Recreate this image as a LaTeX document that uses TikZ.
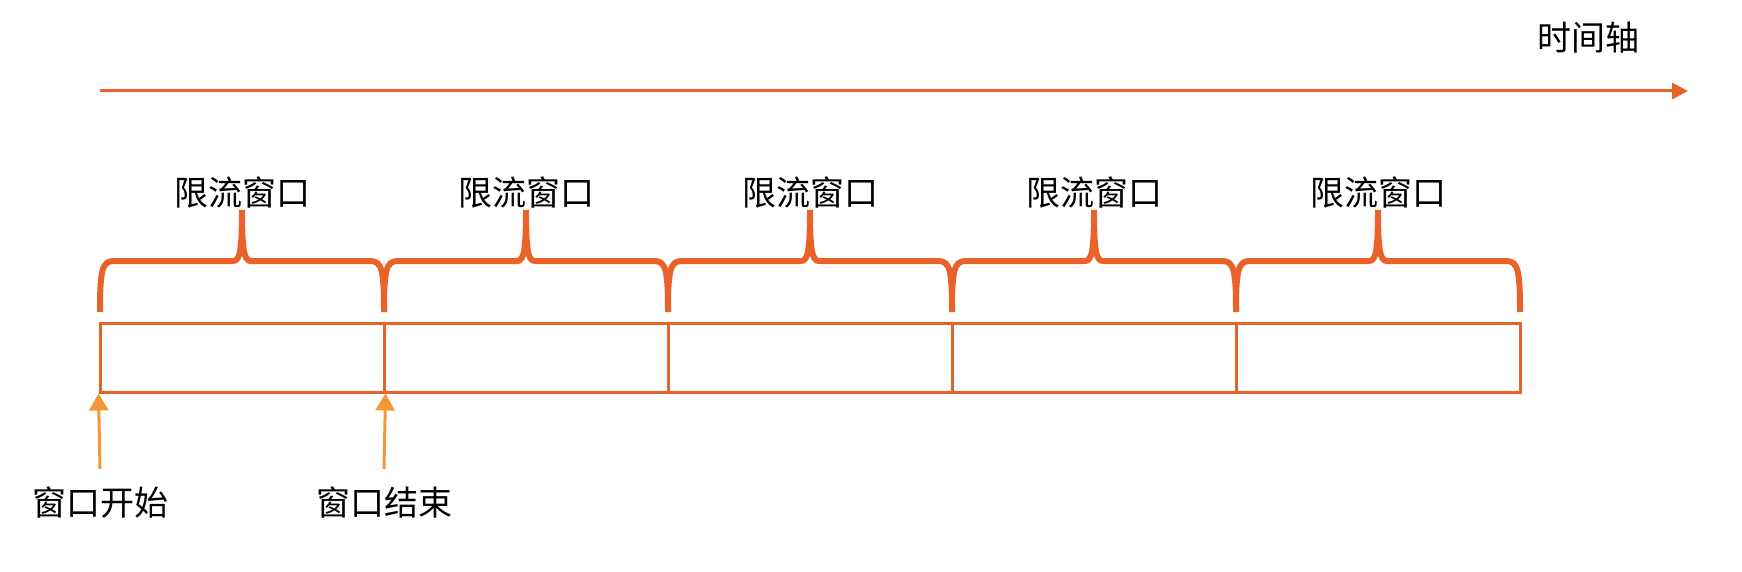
\documentclass[tikz,border=0pt]{standalone}
\usepackage{fontspec}
\usepackage{tikz}
\usetikzlibrary{arrows.meta,positioning,calc}
\newfontfamily\cjk{Noto Sans CJK SC}
\definecolor{C_orange}{RGB}{232,98,42}
\definecolor{C_amber}{RGB}{242,152,52}

\begin{document}
\begin{tikzpicture}[
    x=1pt, y=-1pt,
    font=\cjk\fontsize{34}{40}\selectfont,
    cell/.style={draw=C_orange, line width=3pt, rectangle, minimum width=284pt, minimum height=69pt, inner sep=0pt},
    lbl/.style={inner sep=0pt, text=black},
    axis/.style={draw=C_orange, line width=3pt, -{Triangle[length=16pt,width=16pt]}},
    pointer/.style={draw=C_amber, line width=3pt, -{Triangle[length=17pt,width=19pt]}},
    wbrace/.style={draw=C_orange, line width=6pt},
    winbrace/.pic={
        \draw[wbrace] (-142,102) .. controls (-142,60) and (-140,51) .. (-128,51)
            -- (-9,51) .. controls (-2,51) and (0,40) .. (0,0)
            .. controls (0,40) and (2,51) .. (9,51)
            -- (128,51) .. controls (140,51) and (142,60) .. (142,102);
    },
]
\useasboundingbox (0,0) rectangle (1742,572);

% time axis
\coordinate (ax0) at (100,91);
\coordinate (ax1) at (1688,91);
\draw[axis] (ax0) -- (ax1);
\node[lbl] (tlabel) at (1588,38) {时间轴};

% windows
\node[cell] (w1) at (242,357.5) {};
\node[cell] (w2) at (526,357.5) {};
\node[cell] (w3) at (810,357.5) {};
\node[cell] (w4) at (1094,357.5) {};
\node[cell] (w5) at (1378,357.5) {};

% braces
\pic at (242,210) {winbrace};
\pic at (526,210) {winbrace};
\pic at (810,210) {winbrace};
\pic at (1094,210) {winbrace};
\pic at (1378,210) {winbrace};

\node[lbl] (l1) at (242,193) {限流窗口};
\node[lbl] (l2) at (526,193) {限流窗口};
\node[lbl] (l3) at (810,193) {限流窗口};
\node[lbl] (l4) at (1094,193) {限流窗口};
\node[lbl] (l5) at (1378,193) {限流窗口};

% start / end pointers
\coordinate (s0) at (100,469);
\coordinate (e0) at (384,469);
\draw[pointer] (s0) -- (w1.south west);
\draw[pointer] (e0) -- (w1.south east);
\node[lbl] (start) at (100,503) {窗口开始};
\node[lbl] (end) at (384,503) {窗口结束};
\end{tikzpicture}
\end{document}
